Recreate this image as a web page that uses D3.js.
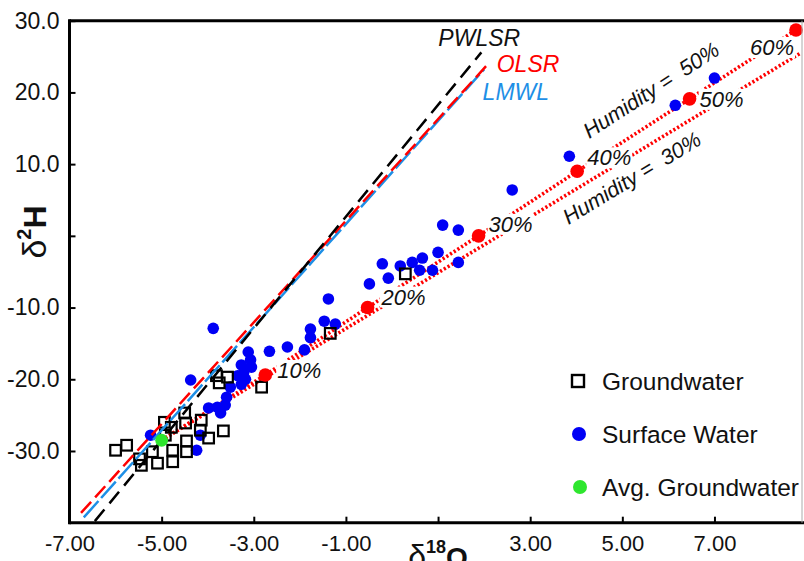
<!DOCTYPE html>
<html>
<head>
<meta charset="utf-8">
<script src="https://cdn.jsdelivr.net/npm/d3@7"></script>
<style>
  body { margin: 0; background: #fff; }
  text { font-family: "Liberation Sans", Arial, Helvetica, sans-serif; }
</style>
</head>
<body>
<svg id="chart" width="804" height="561"></svg>
<script>
// Groundwater samples: δ18O and δ2H (‰)
const groundwaterO = [-6.00, -5.76, -5.48, -5.44, -5.20, -5.09, -4.94, -4.92, -4.79, -4.76, -4.76,
  -4.50, -4.48, -4.46, -4.46, -4.14, -4.16, -3.98, -3.66, -3.81, -3.75, -3.57, -2.83, -1.34, 0.29];
const groundwaterH = [-29.9, -29.2, -31.1, -32.0, -30.1, -31.7, -26.0, -27.8, -26.7, -29.9, -31.5,
  -24.7, -26.1, -28.6, -30.1, -25.7, -27.1, -28.2, -27.2, -19.5, -20.5, -19.7, -21.1, -13.6, -5.3];

// Surface water samples
const surfaceO = [7.00, 6.15, 3.85, 2.61, 1.10, 1.44, 1.00, 0.66, 0.44, 0.18, -0.21, -0.08, -0.49,
  0.60, 0.88, 1.44, -1.38, -1.47, -1.23, -1.77, -1.77, -1.90, -2.27, -2.66, -3.12, -3.07, -3.27,
  -3.05, -3.22, -3.35, -3.18, -3.51, -3.88, -4.37, -3.27, -3.62, -3.79, -3.98, -3.72, -4.16, -4.24,
  -5.24, -3.59];
const surfaceH = [22.0, 18.2, 11.1, 6.4, 1.5, 0.8, -2.3, -3.1, -3.7, -4.2, -3.9, -5.9, -6.7,
  -4.8, -4.8, -3.7, -8.8, -11.9, -12.3, -13.0, -14.2, -15.9, -15.5, -16.1, -16.2, -17.3, -18.0,
  -18.3, -19.1, -19.5, -20.0, -21.1, -12.9, -20.1, -20.7, -23.6, -23.9, -24.0, -24.7, -27.8, -29.9,
  -27.8, -22.5];

// Mean of the groundwater samples
const avgGroundwaterO = [-5.0];
const avgGroundwaterH = [-28.5];

// Evaporation trajectory at 50% humidity, marked by fraction evaporated
const evapLabels = ["10%", "20%", "30%", "40%", "50%", "60%"];
const evapO = [-2.75, -0.53, 1.88, 4.02, 6.46, 8.77];
const evapH = [-19.4, -10.0, 0.0, 9.0, 19.1, 28.7];

// Evaporation trajectory at 30% humidity (end point)
const humid30O = [8.86];
const humid30H = [25.45];

// Regression lines: δ2H = slope * δ18O + intercept
const lineNames = ["PWLSR", "OLSR", "LMWL"];
const lineSlopes = [7.79, 7.085, 7.19];
const lineIntercepts = [10.47, 9.19, 8.84];
const lineFromO = [-6.45, -6.75, -6.69];
const lineToO = [1.94, 2.10, 2.00];

// Axis ticks
const xTicks = [-7, -5, -3, -1, 1, 3, 5, 7];
const xTickLabels = ["-7.00", "-5.00", "-3.00", "-1.00", "", "3.00", "5.00", "7.00"];
const yTicks = [-30, -20, -10, 0, 10, 20, 30];
const yTickLabels = ["-30.0", "-20.0", "-10.0", "", "10.0", "20.0", "30.0"];

const legendLabels = ["Groundwater", "Surface Water", "Avg. Groundwater"];

// ---------------------------------------------------------------------------
const W = 804, H = 561;
const plot = { left: 69.5, right: 802, top: 20.7, bottom: 522.7 };

const x = d3.scaleLinear().domain([-7, 8.9]).range([plot.left, plot.right]);
const y = d3.scaleLinear().domain([-40, 30]).range([plot.bottom, plot.top]);

const RED = "#ff0000", BLUE = "#0000f5", LBLUE = "#1e8fe6", GREEN = "#2ee62e";

const svg = d3.select("#chart");
svg.append("rect").attr("width", W).attr("height", H).attr("fill", "#fff");

svg.append("defs").append("clipPath").attr("id", "plotClip")
  .append("rect").attr("x", plot.left).attr("y", plot.top)
  .attr("width", W - plot.left).attr("height", plot.bottom - plot.top);

const g = svg.append("g").attr("clip-path", "url(#plotClip)");

// Evaporation trajectories (dotted)
const line = d3.line().x(d => x(d[0])).y(d => y(d[1]));
const start = [avgGroundwaterO[0], avgGroundwaterH[0]];
const path50 = [start].concat(evapO.map((o, i) => [o, evapH[i]]));
const path30 = [start, [humid30O[0], humid30H[0]]];
[path50, path30].forEach(p => {
  g.append("path").attr("d", line(p)).attr("fill", "none")
    .attr("stroke", RED).attr("stroke-width", 3.6).attr("stroke-dasharray", "2.2,2.2");
});

// White boxes behind evaporation labels cut the dotted lines
const pctOffsets = [[12, 3, "start"], [14, -3, "start"], [10, -4, "start"],
  [10, -6, "start"], [10, 8, "start"], [-2, 25, "end"]];
const pctG = g.append("g");
evapLabels.forEach((lab, i) => {
  const t = pctG.append("text")
    .attr("x", x(evapO[i]) + pctOffsets[i][0])
    .attr("y", y(evapH[i]) + pctOffsets[i][1])
    .attr("text-anchor", pctOffsets[i][2])
    .attr("font-size", 22).attr("font-style", "italic").attr("fill", "#111")
    .text(lab);
  const b = t.node().getBBox();
  pctG.insert("rect", "text").attr("x", b.x - 1).attr("y", b.y + 2)
    .attr("width", b.width + 2).attr("height", b.height - 4).attr("fill", "#fff");
});

// Surface water
g.append("g").selectAll("circle").data(surfaceO).join("circle")
  .attr("cx", d => x(d)).attr("cy", (d, i) => y(surfaceH[i]))
  .attr("r", 5.8).attr("fill", BLUE);

// Groundwater
g.append("g").selectAll("rect").data(groundwaterO).join("rect")
  .attr("x", d => x(d) - 5.3).attr("y", (d, i) => y(groundwaterH[i]) - 5.3)
  .attr("width", 10.6).attr("height", 10.6)
  .attr("fill", "none").attr("stroke", "#000").attr("stroke-width", 2.2);

// Regression / meteoric water lines (drawn LMWL, OLSR, then PWLSR)
const lineColors = ["#000", RED, LBLUE];
const lineDash = ["15,8", "15,6", "22,4"];
[2, 1, 0].forEach(k => {
  const seg = [[lineFromO[k], lineSlopes[k] * lineFromO[k] + lineIntercepts[k]],
               [lineToO[k], lineSlopes[k] * lineToO[k] + lineIntercepts[k]]];
  g.append("path").attr("d", line(seg)).attr("fill", "none")
    .attr("stroke", lineColors[k]).attr("stroke-width", 2.5).attr("stroke-dasharray", lineDash[k]);
});

// Evaporation model points
g.append("g").selectAll("circle").data(evapO).join("circle")
  .attr("cx", d => x(d)).attr("cy", (d, i) => y(evapH[i]))
  .attr("r", 6.8).attr("fill", RED);

// Average groundwater
g.append("circle").attr("cx", x(avgGroundwaterO[0])).attr("cy", y(avgGroundwaterH[0]))
  .attr("r", 6.4).attr("fill", GREEN);

// Line labels near the upper ends
const nameColors = ["#111", RED, LBLUE];
const nameOffsets = [[-43, -6], [8, 8.5], [-1.5, 31]];
lineNames.forEach((n, k) => {
  const ox = lineToO[k], oy = lineSlopes[k] * ox + lineIntercepts[k];
  svg.append("text").attr("x", x(ox) + nameOffsets[k][0]).attr("y", y(oy) + nameOffsets[k][1])
    .attr("font-size", 23).attr("font-style", "italic").attr("fill", nameColors[k]).text(n);
});

// Humidity labels along the two trajectories
function angleOf(p) {
  const a = p[0], b = p[p.length - 1];
  return Math.atan2(y(b[1]) - y(a[1]), x(b[0]) - x(a[0])) * 180 / Math.PI;
}
const humidLabels = [
  { text: "Humidity =  50%", o: 4.28, h: 13.5, ang: angleOf(path50) },
  { text: "Humidity =  30%", o: 3.83, h: 1.5, ang: angleOf(path30) }
];
humidLabels.forEach(d => {
  svg.append("text").attr("transform", `translate(${x(d.o)},${y(d.h)}) rotate(${d.ang})`)
    .attr("font-size", 21.5).attr("font-style", "italic").attr("fill", "#111")
    .style("white-space", "pre").text(d.text);
});

// Axes
const xAxis = d3.axisBottom(x).tickValues(xTicks).tickSizeInner(-6).tickSizeOuter(0)
  .tickPadding(13).tickFormat((d, i) => xTickLabels[i]);
const yAxis = d3.axisLeft(y).tickValues(yTicks).tickSizeInner(-6).tickSizeOuter(0)
  .tickPadding(10).tickFormat((d, i) => yTickLabels[i]);

const gx = svg.append("g").attr("transform", `translate(0,${plot.bottom})`).call(xAxis);
const gy = svg.append("g").attr("transform", `translate(${plot.left},0)`).call(yAxis);
[gx, gy].forEach(a => {
  a.select(".domain").remove();
  a.selectAll(".tick line").attr("stroke", "#000").attr("stroke-width", 2);
  a.selectAll(".tick text").attr("fill", "#111")
    .attr("font-family", "Liberation Sans, Arial, sans-serif");
});
gx.selectAll(".tick text").attr("font-size", 22);
gy.selectAll(".tick text").attr("font-size", 23);

// Frame
svg.append("line").attr("x1", plot.left).attr("x2", W).attr("y1", plot.bottom).attr("y2", plot.bottom)
  .attr("stroke", "#000").attr("stroke-width", 3);
svg.append("line").attr("x1", plot.left).attr("x2", plot.left).attr("y1", plot.top - 1.5).attr("y2", plot.bottom + 1.5)
  .attr("stroke", "#000").attr("stroke-width", 3);
svg.append("line").attr("x1", plot.left).attr("x2", W).attr("y1", plot.top).attr("y2", plot.top)
  .attr("stroke", "#000").attr("stroke-width", 3);
svg.append("line").attr("x1", plot.right).attr("x2", plot.right).attr("y1", plot.top).attr("y2", plot.bottom)
  .attr("stroke", "#aaa").attr("stroke-width", 1);

// Axis titles
const yTitle = svg.append("text").attr("transform", `translate(46,232) rotate(-90)`)
  .attr("text-anchor", "middle").attr("font-weight", "bold").attr("fill", "#111");
yTitle.append("tspan").attr("font-size", 34).attr("font-weight", "normal").text("δ");
yTitle.append("tspan").attr("font-size", 20).attr("dy", -15).text("2");
yTitle.append("tspan").attr("font-size", 32).attr("dy", 15).text("H");

const xTitle = svg.append("text").attr("x", x(1)).attr("y", 567)
  .attr("text-anchor", "middle").attr("font-weight", "bold").attr("fill", "#111");
xTitle.append("tspan").attr("font-size", 32).attr("font-weight", "normal").text("δ");
xTitle.append("tspan").attr("font-size", 18).attr("dy", -14).text("18");
xTitle.append("tspan").attr("font-size", 28).attr("dy", 14).text("O");

// Legend
const legY = [381, 434, 487];
const lg = svg.append("g");
lg.append("rect").attr("x", 572).attr("y", legY[0] - 6).attr("width", 12).attr("height", 12)
  .attr("fill", "none").attr("stroke", "#000").attr("stroke-width", 2.4);
lg.append("circle").attr("cx", 579).attr("cy", legY[1]).attr("r", 7).attr("fill", BLUE);
lg.append("circle").attr("cx", 580).attr("cy", legY[2]).attr("r", 7).attr("fill", GREEN);
legendLabels.forEach((l, i) => {
  lg.append("text").attr("x", 602).attr("y", legY[i]).attr("dy", "0.35em")
    .attr("font-size", 24.5).attr("fill", "#111").text(l);
});
</script>
</body>
</html>
